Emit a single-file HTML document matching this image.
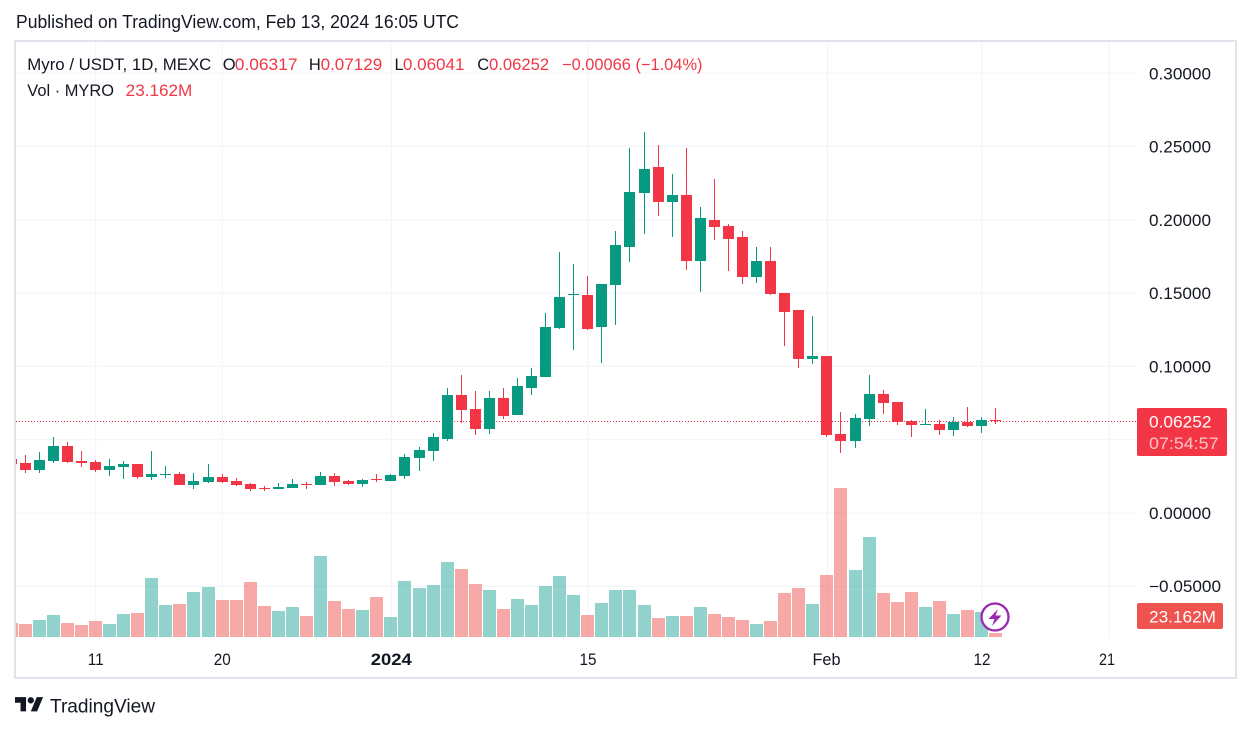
<!DOCTYPE html>
<html><head><meta charset="utf-8"><style>
html,body{margin:0;padding:0;background:#fff;width:1251px;height:732px;overflow:hidden}
svg{display:block}
text{font-family:"Liberation Sans",sans-serif}
</style></head><body>
<svg width="1251" height="732" viewBox="0 0 1251 732" xmlns="http://www.w3.org/2000/svg">
<defs><clipPath id="pane"><rect x="16" y="42" width="1121" height="595"/></clipPath></defs>
<rect width="1251" height="732" fill="#fff"/>
<text x="16" y="28" font-size="18" fill="#131722" textLength="443" lengthAdjust="spacingAndGlyphs">Published on TradingView.com, Feb 13, 2024 16:05 UTC</text>
<g stroke="#f0f3fa" stroke-width="1">
<line x1="16" y1="73" x2="1137" y2="73"/><line x1="16" y1="146.3" x2="1137" y2="146.3"/><line x1="16" y1="219.7" x2="1137" y2="219.7"/><line x1="16" y1="293" x2="1137" y2="293"/><line x1="16" y1="366.3" x2="1137" y2="366.3"/><line x1="16" y1="439.7" x2="1137" y2="439.7"/><line x1="16" y1="513" x2="1137" y2="513"/><line x1="16" y1="586.3" x2="1137" y2="586.3"/>
<line x1="95.7" y1="42" x2="95.7" y2="637"/><line x1="222.3" y1="42" x2="222.3" y2="637"/><line x1="391.3" y1="42" x2="391.3" y2="637"/><line x1="588" y1="42" x2="588" y2="637"/><line x1="827.5" y1="42" x2="827.5" y2="637"/><line x1="982" y1="42" x2="982" y2="637"/><line x1="1109" y1="42" x2="1109" y2="637"/>
</g>
<g clip-path="url(#pane)">
<g fill="rgba(38,166,154,0.5)">
<rect x="33" y="620" width="13" height="17"/><rect x="47" y="615" width="13" height="22"/><rect x="103" y="624" width="13" height="13"/><rect x="117" y="614" width="13" height="23"/><rect x="145" y="578" width="13" height="59"/><rect x="159" y="605" width="13" height="32"/><rect x="187" y="592" width="13" height="45"/><rect x="202" y="587" width="13" height="50"/><rect x="272" y="611" width="13" height="26"/><rect x="286" y="607" width="13" height="30"/><rect x="314" y="556" width="13" height="81"/><rect x="356" y="610" width="13" height="27"/><rect x="384" y="617" width="13" height="20"/><rect x="398" y="581" width="13" height="56"/><rect x="413" y="588" width="13" height="49"/><rect x="427" y="585" width="13" height="52"/><rect x="441" y="562" width="13" height="75"/><rect x="483" y="590" width="13" height="47"/><rect x="511" y="599" width="13" height="38"/><rect x="525" y="605" width="13" height="32"/><rect x="539" y="586" width="13" height="51"/><rect x="553" y="576" width="13" height="61"/><rect x="567" y="595" width="13" height="42"/><rect x="595" y="603" width="13" height="34"/><rect x="609" y="590" width="13" height="47"/><rect x="623" y="590" width="13" height="47"/><rect x="638" y="605" width="13" height="32"/><rect x="666" y="616" width="13" height="21"/><rect x="694" y="607" width="13" height="30"/><rect x="750" y="624" width="13" height="13"/><rect x="806" y="604" width="13" height="33"/><rect x="849" y="570" width="13" height="67"/><rect x="863" y="537" width="13" height="100"/><rect x="919" y="607" width="13" height="30"/><rect x="947" y="614" width="13" height="23"/><rect x="975" y="612" width="13" height="25"/>
</g>
<g fill="rgba(239,83,80,0.5)">
<rect x="5" y="623" width="13" height="14"/><rect x="19" y="624" width="13" height="13"/><rect x="61" y="623" width="13" height="14"/><rect x="75" y="625" width="13" height="12"/><rect x="89" y="621" width="13" height="16"/><rect x="131" y="613" width="13" height="24"/><rect x="173" y="604" width="13" height="33"/><rect x="216" y="600" width="13" height="37"/><rect x="230" y="600" width="13" height="37"/><rect x="244" y="582" width="13" height="55"/><rect x="258" y="606" width="13" height="31"/><rect x="300" y="616" width="13" height="21"/><rect x="328" y="601" width="13" height="36"/><rect x="342" y="609" width="13" height="28"/><rect x="370" y="597" width="13" height="40"/><rect x="455" y="569" width="13" height="68"/><rect x="469" y="584" width="13" height="53"/><rect x="497" y="609" width="13" height="28"/><rect x="581" y="615" width="13" height="22"/><rect x="652" y="618" width="13" height="19"/><rect x="680" y="616" width="13" height="21"/><rect x="708" y="614" width="13" height="23"/><rect x="722" y="617" width="13" height="20"/><rect x="736" y="620" width="13" height="17"/><rect x="764" y="621" width="13" height="16"/><rect x="778" y="593" width="13" height="44"/><rect x="792" y="588" width="13" height="49"/><rect x="820" y="575" width="13" height="62"/><rect x="834" y="488" width="13" height="149"/><rect x="877" y="593" width="13" height="44"/><rect x="891" y="602" width="13" height="35"/><rect x="905" y="592" width="13" height="45"/><rect x="933" y="601" width="13" height="36"/><rect x="961" y="610" width="13" height="27"/><rect x="989" y="633" width="13" height="4"/>
</g>
<line x1="16" y1="421.5" x2="1137" y2="421.5" stroke="#f23645" stroke-width="1" stroke-dasharray="1 2"/>
<g fill="#089981">
<rect x="39" y="452" width="1" height="21"/><rect x="34" y="460" width="11" height="10"/>
<rect x="53" y="437" width="1" height="26"/><rect x="48" y="446" width="11" height="15"/>
<rect x="109" y="459" width="1" height="17"/><rect x="104" y="466" width="11" height="4"/>
<rect x="123" y="461" width="1" height="18"/><rect x="118" y="464" width="11" height="3"/>
<rect x="151" y="451" width="1" height="29"/><rect x="146" y="474" width="11" height="3"/>
<rect x="165" y="466" width="1" height="12"/><rect x="160" y="474" width="11" height="1"/>
<rect x="193" y="473" width="1" height="16"/><rect x="188" y="481" width="11" height="4"/>
<rect x="208" y="464" width="1" height="19"/><rect x="203" y="477" width="11" height="5"/>
<rect x="278" y="483" width="1" height="6"/><rect x="273" y="487" width="11" height="2"/>
<rect x="292" y="479" width="1" height="9"/><rect x="287" y="484" width="11" height="4"/>
<rect x="320" y="472" width="1" height="13"/><rect x="315" y="476" width="11" height="9"/>
<rect x="362" y="479" width="1" height="8"/><rect x="357" y="480" width="11" height="4"/>
<rect x="390" y="474" width="1" height="7"/><rect x="385" y="475" width="11" height="6"/>
<rect x="404" y="454" width="1" height="25"/><rect x="399" y="457" width="11" height="19"/>
<rect x="419" y="447" width="1" height="24"/><rect x="414" y="450" width="11" height="8"/>
<rect x="433" y="433" width="1" height="28"/><rect x="428" y="437" width="11" height="14"/>
<rect x="447" y="388" width="1" height="53"/><rect x="442" y="395" width="11" height="44"/>
<rect x="489" y="391" width="1" height="43"/><rect x="484" y="398" width="11" height="31"/>
<rect x="517" y="378" width="1" height="37"/><rect x="512" y="386" width="11" height="29"/>
<rect x="531" y="368" width="1" height="27"/><rect x="526" y="376" width="11" height="12"/>
<rect x="545" y="313" width="1" height="64"/><rect x="540" y="327" width="11" height="50"/>
<rect x="559" y="252" width="1" height="77"/><rect x="554" y="297" width="11" height="31"/>
<rect x="573" y="264" width="1" height="86"/><rect x="568" y="294" width="11" height="1"/>
<rect x="601" y="284" width="1" height="79"/><rect x="596" y="284" width="11" height="43"/>
<rect x="615" y="231" width="1" height="94"/><rect x="610" y="245" width="11" height="40"/>
<rect x="629" y="148" width="1" height="114"/><rect x="624" y="192" width="11" height="55"/>
<rect x="644" y="132" width="1" height="102"/><rect x="639" y="169" width="11" height="24"/>
<rect x="672" y="174" width="1" height="63"/><rect x="667" y="195" width="11" height="7"/>
<rect x="700" y="207" width="1" height="85"/><rect x="695" y="218" width="11" height="43"/>
<rect x="756" y="247" width="1" height="36"/><rect x="751" y="261" width="11" height="16"/>
<rect x="812" y="316" width="1" height="48"/><rect x="807" y="356" width="11" height="3"/>
<rect x="855" y="414" width="1" height="34"/><rect x="850" y="418" width="11" height="23"/>
<rect x="869" y="375" width="1" height="51"/><rect x="864" y="394" width="11" height="25"/>
<rect x="925" y="409" width="1" height="16"/><rect x="920" y="424" width="11" height="1"/>
<rect x="953" y="417" width="1" height="19"/><rect x="948" y="422" width="11" height="8"/>
<rect x="981" y="417" width="1" height="16"/><rect x="976" y="420" width="11" height="6"/>
</g>
<g fill="#f23645">
<rect x="11" y="457" width="1" height="9"/><rect x="6" y="459" width="11" height="5"/>
<rect x="25" y="455" width="1" height="18"/><rect x="20" y="463" width="11" height="7"/>
<rect x="67" y="442" width="1" height="21"/><rect x="62" y="446" width="11" height="16"/>
<rect x="81" y="451" width="1" height="16"/><rect x="76" y="461" width="11" height="2"/>
<rect x="95" y="460" width="1" height="12"/><rect x="90" y="462" width="11" height="8"/>
<rect x="137" y="464" width="1" height="15"/><rect x="132" y="464" width="11" height="13"/>
<rect x="179" y="472" width="1" height="13"/><rect x="174" y="474" width="11" height="11"/>
<rect x="222" y="474" width="1" height="9"/><rect x="217" y="477" width="11" height="5"/>
<rect x="236" y="478" width="1" height="8"/><rect x="231" y="481" width="11" height="4"/>
<rect x="250" y="483" width="1" height="8"/><rect x="245" y="484" width="11" height="5"/>
<rect x="264" y="486" width="1" height="5"/><rect x="259" y="488" width="11" height="1"/>
<rect x="306" y="482" width="1" height="7"/><rect x="301" y="484" width="11" height="1"/>
<rect x="334" y="473" width="1" height="13"/><rect x="329" y="476" width="11" height="6"/>
<rect x="348" y="480" width="1" height="5"/><rect x="343" y="481" width="11" height="3"/>
<rect x="376" y="474" width="1" height="8"/><rect x="371" y="479" width="11" height="1"/>
<rect x="461" y="375" width="1" height="48"/><rect x="456" y="395" width="11" height="15"/>
<rect x="475" y="391" width="1" height="44"/><rect x="470" y="409" width="11" height="20"/>
<rect x="503" y="388" width="1" height="31"/><rect x="498" y="398" width="11" height="18"/>
<rect x="587" y="276" width="1" height="54"/><rect x="582" y="295" width="11" height="34"/>
<rect x="658" y="145" width="1" height="71"/><rect x="653" y="167" width="11" height="35"/>
<rect x="686" y="148" width="1" height="122"/><rect x="681" y="195" width="11" height="66"/>
<rect x="714" y="179" width="1" height="61"/><rect x="709" y="220" width="11" height="7"/>
<rect x="728" y="224" width="1" height="47"/><rect x="723" y="226" width="11" height="13"/>
<rect x="742" y="231" width="1" height="53"/><rect x="737" y="237" width="11" height="40"/>
<rect x="770" y="247" width="1" height="48"/><rect x="765" y="261" width="11" height="33"/>
<rect x="784" y="293" width="1" height="53"/><rect x="779" y="293" width="11" height="19"/>
<rect x="798" y="310" width="1" height="58"/><rect x="793" y="310" width="11" height="49"/>
<rect x="826" y="356" width="1" height="81"/><rect x="821" y="356" width="11" height="79"/>
<rect x="840" y="412" width="1" height="41"/><rect x="835" y="434" width="11" height="7"/>
<rect x="883" y="390" width="1" height="24"/><rect x="878" y="394" width="11" height="9"/>
<rect x="897" y="402" width="1" height="23"/><rect x="892" y="402" width="11" height="20"/>
<rect x="911" y="420" width="1" height="17"/><rect x="906" y="421" width="11" height="4"/>
<rect x="939" y="420" width="1" height="15"/><rect x="934" y="424" width="11" height="6"/>
<rect x="967" y="407" width="1" height="20"/><rect x="962" y="422" width="11" height="4"/>
<rect x="995" y="408" width="1" height="16"/><rect x="990" y="420" width="11" height="1"/>
</g>
<circle cx="995" cy="617" r="13.5" fill="#fff" stroke="#9c27b0" stroke-width="2.3"/>
<path d="M998 609 L988.5 619 L994.5 619 L992 626 L1001.5 615.5 L995.5 615.5 Z" fill="#9c27b0"/>
</g>
<rect x="15" y="41" width="1221" height="637" fill="none" stroke="#e0e3eb" stroke-width="2"/>
<g font-size="16.5">
<text x="27.3" y="70" fill="#131722" textLength="184" lengthAdjust="spacingAndGlyphs">Myro / USDT, 1D, MEXC</text>
<text x="222.7" y="70" fill="#131722">O</text>
<text x="234.8" y="70" fill="#f23645" textLength="62.7" lengthAdjust="spacingAndGlyphs">0.06317</text>
<text x="308.9" y="70" fill="#131722">H</text>
<text x="320.6" y="70" fill="#f23645" textLength="61.6" lengthAdjust="spacingAndGlyphs">0.07129</text>
<text x="394.5" y="70" fill="#131722">L</text>
<text x="402.9" y="70" fill="#f23645" textLength="61.6" lengthAdjust="spacingAndGlyphs">0.06041</text>
<text x="477.3" y="70" fill="#131722">C</text>
<text x="489" y="70" fill="#f23645" textLength="60.2" lengthAdjust="spacingAndGlyphs">0.06252</text>
<text x="562" y="70" fill="#f23645" textLength="140.5" lengthAdjust="spacingAndGlyphs">−0.00066 (−1.04%)</text>
<text x="27.3" y="96" fill="#131722" textLength="86.7" lengthAdjust="spacingAndGlyphs">Vol · MYRO</text>
<text x="125.7" y="96" fill="#f23645" textLength="66.6" lengthAdjust="spacingAndGlyphs">23.162M</text>
</g>
<g font-size="16.5" fill="#131722">
<text x="1149" y="79.5" textLength="62" lengthAdjust="spacingAndGlyphs">0.30000</text>
<text x="1149" y="152.5" textLength="62" lengthAdjust="spacingAndGlyphs">0.25000</text>
<text x="1149" y="226" textLength="62" lengthAdjust="spacingAndGlyphs">0.20000</text>
<text x="1149" y="299" textLength="62" lengthAdjust="spacingAndGlyphs">0.15000</text>
<text x="1149" y="372.5" textLength="62" lengthAdjust="spacingAndGlyphs">0.10000</text>
<text x="1149" y="519" textLength="62" lengthAdjust="spacingAndGlyphs">0.00000</text>
<text x="1149" y="592" textLength="72" lengthAdjust="spacingAndGlyphs">−0.05000</text>
</g>
<rect x="1137" y="408" width="90" height="48" rx="2" fill="#f23645"/>
<text x="1149" y="427.5" font-size="16.5" fill="#fff" textLength="62.5" lengthAdjust="spacingAndGlyphs">0.06252</text>
<text x="1149" y="449" font-size="16.5" fill="#fbc3c7" textLength="69.5" lengthAdjust="spacingAndGlyphs">07:54:57</text>
<rect x="1137" y="603" width="86" height="26" rx="2" fill="#ef5350"/>
<text x="1149" y="622.5" font-size="16.5" fill="#fff" textLength="67" lengthAdjust="spacingAndGlyphs">23.162M</text>
<g font-size="16.5" fill="#131722" text-anchor="middle">
<text x="95.7" y="665" textLength="16" lengthAdjust="spacingAndGlyphs">11</text>
<text x="222.3" y="665" textLength="17" lengthAdjust="spacingAndGlyphs">20</text>
<text x="391.3" y="665" font-weight="bold" textLength="41" lengthAdjust="spacingAndGlyphs">2024</text>
<text x="588" y="665" textLength="17" lengthAdjust="spacingAndGlyphs">15</text>
<text x="826.5" y="665" textLength="28" lengthAdjust="spacingAndGlyphs">Feb</text>
<text x="982" y="665" textLength="17" lengthAdjust="spacingAndGlyphs">12</text>
<text x="1107" y="665" textLength="16" lengthAdjust="spacingAndGlyphs">21</text>
</g>
<g transform="translate(15,694) scale(0.79)" fill="#131722">
<path d="M14 22H7V11H0V4h14v18z"/><path d="M28 22h-8l7.5-18h8L28 22z"/><circle cx="20" cy="8" r="4"/>
</g>
<text x="50" y="712.5" font-size="19.5" fill="#131722" textLength="105" lengthAdjust="spacingAndGlyphs">TradingView</text>
</svg>
</body></html>
